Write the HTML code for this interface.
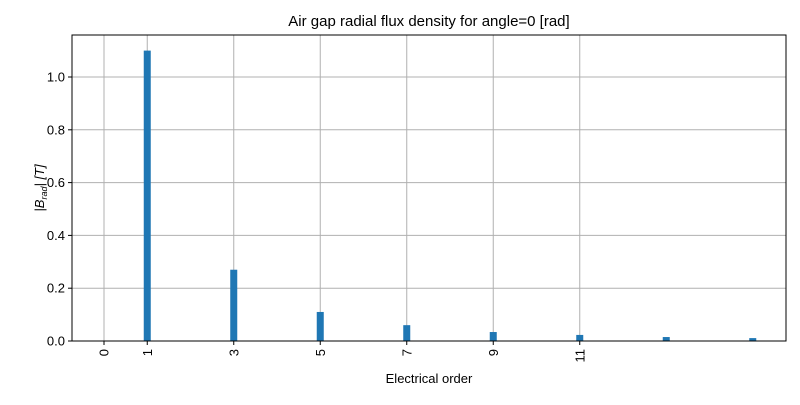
<!DOCTYPE html>
<html><head><meta charset="utf-8"><style>
body{margin:0;background:#fff;font-family:"Liberation Sans",Arial,sans-serif}
</style></head><body>
<svg id="chart" width="800" height="400" xmlns="http://www.w3.org/2000/svg" font-family="Liberation Sans, Arial, sans-serif">
<rect width="800" height="400" fill="#fff"/>
<g id="grid"></g><g id="bars"></g><g id="axes"></g>
</svg>
<script>
const orders=[1,3,5,7,9,11,13,15];
const amplitudes=[1.1,0.27,0.11,0.06,0.034,0.023,0.015,0.011];
const xTicks=[0,1,3,5,7,9,11];
const yTicks=[0,0.2,0.4,0.6,0.8,1.0];
const L=72,R=786,T=35,B=341;
const x=v=>104+v*43.25;
const y=v=>B-v*264;
const NS='http://www.w3.org/2000/svg';
function mk(tag,attrs,parent,text){const e=document.createElementNS(NS,tag);for(const k in attrs)e.setAttribute(k,attrs[k]);if(text!==undefined)e.textContent=text;parent.appendChild(e);return e;}
const grid=document.getElementById('grid'),bars=document.getElementById('bars'),axes=document.getElementById('axes'),svg=document.getElementById('chart');
xTicks.forEach(t=>{const l=mk('line',{x1:x(t),x2:x(t),y1:T,y2:B,stroke:'#b0b0b0','stroke-width':1},grid);

});
yTicks.forEach(t=>{const l=mk('line',{x1:L,x2:R,y1:y(t),y2:y(t),stroke:'#b0b0b0','stroke-width':1},grid);

});
orders.forEach((o,i)=>{const r=mk('rect',{x:x(o)-3.5,y:y(amplitudes[i]),width:7,height:B-y(amplitudes[i]),fill:'#1f77b4'},bars);

});
const f=mk('rect',{x:L,y:T,width:R-L,height:B-T,fill:'none',stroke:'#000','stroke-width':1},axes);


xTicks.forEach(t=>{mk('line',{x1:x(t),x2:x(t),y1:B,y2:B+4,stroke:'#000'},axes);
const tx=mk('text',{x:0,y:0,transform:`translate(${x(t)+4.5},${B+8}) rotate(-90)`,'text-anchor':'end','font-size':13,fill:'#000'},axes,String(t));

});
yTicks.forEach(t=>{mk('line',{x1:L-4,x2:L,y1:y(t),y2:y(t),stroke:'#000'},axes);
const tx=mk('text',{x:L-7,y:y(t)+4.5,'text-anchor':'end','font-size':13,fill:'#000'},axes,t.toFixed(1));

});
const title=mk('text',{x:429,y:26,'text-anchor':'middle','font-size':15,fill:'#000'},svg,'Air gap radial flux density for angle=0 [rad]');


const xl=mk('text',{x:429,y:383,'text-anchor':'middle','font-size':13,fill:'#000'},svg,'Electrical order');


const yl=mk('text',{x:0,y:0,transform:'translate(44,188) rotate(-90)','text-anchor':'middle','font-size':13,fill:'#000','font-style':'italic'},svg);


mk('tspan',{},yl,'|B');
mk('tspan',{'font-size':9,dy:3},yl,'rad');
mk('tspan',{dy:-3},yl,'| [T]');
</script>
</body></html>
